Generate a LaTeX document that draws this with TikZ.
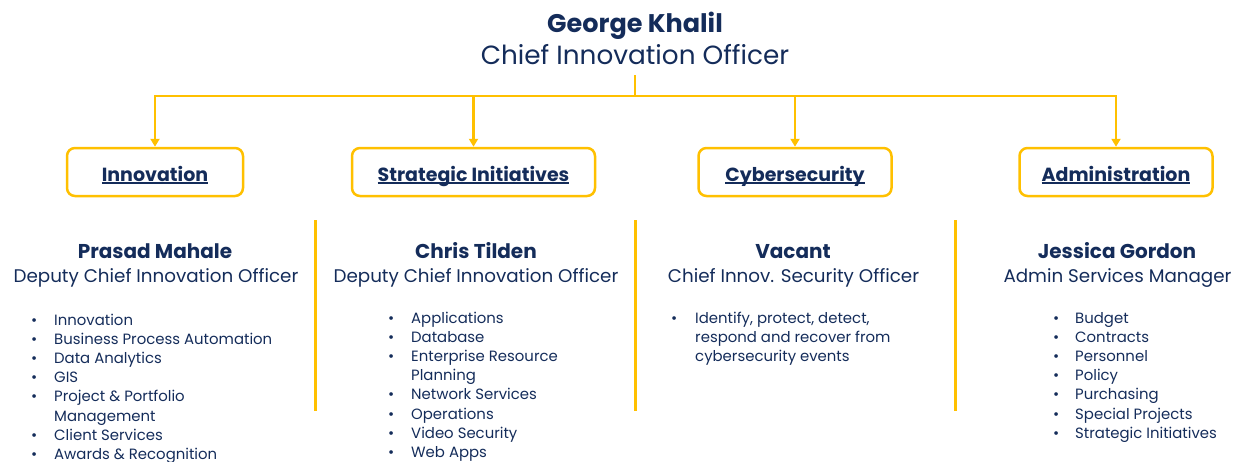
\documentclass[tikz,border=0pt]{standalone}
\usepackage{fontspec}
\setmainfont{Poppins}
\usetikzlibrary{arrows.meta}
\definecolor{navy}{HTML}{142C5A}
\definecolor{gold}{HTML}{FFC000}
\newcommand\bl{\textbullet}
\newcommand\uln[1]{\setbox0\hbox{#1}\rlap{\rule[-2.8pt]{\wd0}{1.5pt}}\box0}
\begin{document}
\begin{tikzpicture}[x=1pt,y=-1pt,
  conn/.style={draw=gold,line width=2.5pt},
  arr/.style={conn,-{Triangle[width=9pt,length=8pt]}},
  unitbox/.style={draw=gold,line width=2.5pt,rounded corners=8pt,minimum height=48pt,inner sep=0pt,text height=18pt,text depth=0pt,text=navy,font=\fontsize{19}{22}\selectfont\bfseries},
  sep/.style={draw=gold,line width=3pt},
  pname/.style={anchor=base,text=navy,inner sep=0pt,font=\fontsize{20}{24}\selectfont\bfseries},
  prole/.style={anchor=base,text=navy,inner sep=0pt,font=\fontsize{18.3}{22}\selectfont},
  plist/.style={anchor=base west,text=navy,inner sep=0pt,font=\fontsize{14.9}{19.2}\selectfont}]
\useasboundingbox (0,0) rectangle (1238,461);

% CEO
\node[pname,font=\fontsize{25.5}{30}\selectfont\bfseries] (ceoname) at (635,32) {George Khalil};
\node[prole,font=\fontsize{26.3}{30}\selectfont] (ceorole) at (635,64) {Chief Innovation Officer};
\coordinate (top) at (635,75);
\coordinate (bus) at (635,96);

% unit boxes
\node[unitbox,minimum width=176pt] (b1) at (155,172) {\uln{Innovation}};
\node[unitbox,minimum width=243pt] (b2) at (473.5,172) {\uln{Strategic Initiatives}};
\node[unitbox,minimum width=193pt] (b3) at (795,172) {\uln{Cybersecurity}};
\node[unitbox,minimum width=193pt] (b4) at (1116,172) {\uln{Administration}};

% connectors
\draw[conn] (top) -- (bus);
\draw[arr] (bus) -| (b1.north);
\draw[arr] (bus) -| (b2.north);
\draw[arr] (bus) -| (b3.north);
\draw[arr] (bus) -| (b4.north);

% separators
\draw[sep] (315,220) -- (315,411);
\draw[sep] (635,220) -- (635,411);
\draw[sep] (955,220) -- (955,411);

% column 1
\node[pname] (n1) at (155,258) {Prasad Mahale};
\node[prole] (r1) at (156,282) {Deputy Chief Innovation Officer};
\node[plist] (l1) at (31,325) {\begin{tabular}[t]{@{}p{23pt}@{}l@{}}
\bl & Innovation\\
\bl & Business Process Automation\\
\bl & Data Analytics\\
\bl & GIS\\
\bl & Project \& Portfolio\\
 & Management\\
\bl & Client Services\\
\bl & Awards \& Recognition
\end{tabular}};

% column 2
\node[pname] (n2) at (476,258) {Chris Tilden};
\node[prole] (r2) at (476,282) {Deputy Chief Innovation Officer};
\node[plist] (l2) at (388,323) {\begin{tabular}[t]{@{}p{23pt}@{}l@{}}
\bl & Applications\\
\bl & Database\\
\bl & Enterprise Resource\\
 & Planning\\
\bl & Network Services\\
\bl & Operations\\
\bl & Video Security\\
\bl & Web Apps
\end{tabular}};

% column 3
\node[pname] (n3) at (793,258) {Vacant};
\node[prole] (r3) at (793.5,282) {Chief Innov. Security Officer};
\node[plist] (l3) at (671,323) {\begin{tabular}[t]{@{}p{24pt}@{}l@{}}
\bl & Identify, protect, detect,\\
 & respond and recover from\\
 & cybersecurity events
\end{tabular}};

% column 4
\node[pname] (n4) at (1117,258) {Jessica Gordon};
\node[prole] (r4) at (1117.5,282) {Admin Services Manager};
\node[plist] (l4) at (1053,323) {\begin{tabular}[t]{@{}p{22pt}@{}l@{}}
\bl & Budget\\
\bl & Contracts\\
\bl & Personnel\\
\bl & Policy\\
\bl & Purchasing\\
\bl & Special Projects\\
\bl & Strategic Initiatives
\end{tabular}};
\end{tikzpicture}
\end{document}
